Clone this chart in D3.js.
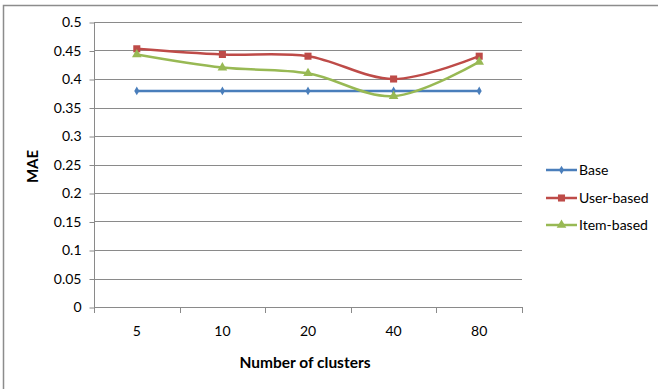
<!DOCTYPE html>
<html>
<head>
<meta charset="utf-8">
<script src="https://cdn.jsdelivr.net/npm/d3@7"></script>
<style>
  html, body { margin: 0; padding: 0; background: #fff; }
  svg { display: block; }
  text { font-family: Lato, "Open Sans", sans-serif; fill: #000; }
</style>
</head>
<body>
<svg id="chart" width="658" height="389"></svg>
<script>
// Cluster counts along the x axis
const categories = ["5", "10", "20", "40", "80"];
// MAE for each method
const baseValues = [0.379, 0.379, 0.379, 0.379, 0.379];
const userValues = [0.453, 0.443, 0.440, 0.400, 0.440];
const itemValues = [0.443, 0.420, 0.410, 0.370, 0.430];
const seriesNames = ["Base", "User-based", "Item-based"];
const yTicks = [0, 0.05, 0.1, 0.15, 0.2, 0.25, 0.3, 0.35, 0.4, 0.45, 0.5];

const series = [
  { name: seriesNames[0], values: baseValues, color: "#4A7EBB", marker: "diamond" },
  { name: seriesNames[1], values: userValues, color: "#BE4B48", marker: "square" },
  { name: seriesNames[2], values: itemValues, color: "#98B954", marker: "triangle" }
];

const svg = d3.select("#chart");

// outer frame
svg.append("rect")
  .attr("x", 3.5).attr("y", 5.5)
  .attr("width", 700).attr("height", 500)
  .attr("fill", "none").attr("stroke", "#8c8c8c").attr("stroke-width", 1.5);

const plot = { left: 94, right: 522, top: 22, bottom: 307 };

const x = d3.scaleBand().domain(categories).range([plot.left, plot.right]);
const y = d3.scaleLinear().domain([0, 0.5]).range([plot.bottom, plot.top]);

// horizontal gridlines
svg.append("g").selectAll("line").data(yTicks.filter(d => d > 0)).join("line")
  .attr("x1", plot.left).attr("x2", plot.right)
  .attr("y1", d => Math.round(y(d)) + 0.5).attr("y2", d => Math.round(y(d)) + 0.5)
  .attr("stroke", "#8a8a8a").attr("stroke-width", 1);

// y axis
const yAxis = d3.axisLeft(y).tickValues(yTicks).tickSize(5).tickPadding(8)
  .tickFormat(d => String(+d.toFixed(2)));
const gy = svg.append("g").attr("transform", `translate(${plot.left + 0.5},0.5)`).call(yAxis);
gy.select(".domain").attr("stroke", "#8a8a8a").attr("d", `M0,${plot.top}V${plot.bottom}`);
gy.selectAll(".tick line").attr("stroke", "#8a8a8a");
gy.selectAll(".tick text").style("font-size", "14px").style("fill", "#000")
  .style("font-family", "Lato, 'Open Sans', sans-serif");

// x axis: ticks at band boundaries, labels at band centres
const gx = svg.append("g");
gx.append("line")
  .attr("x1", plot.left).attr("x2", plot.right)
  .attr("y1", plot.bottom + 0.5).attr("y2", plot.bottom + 0.5)
  .attr("stroke", "#8a8a8a");
const bounds = categories.map(c => x(c)).concat([x(categories[categories.length - 1]) + x.bandwidth()]);
gx.selectAll("line.tk").data(bounds).join("line").attr("class", "tk")
  .attr("x1", d => Math.round(d) + 0.5).attr("x2", d => Math.round(d) + 0.5)
  .attr("y1", plot.bottom).attr("y2", plot.bottom + 6)
  .attr("stroke", "#8a8a8a");
gx.selectAll("text").data(categories).join("text")
  .attr("x", d => x(d) + x.bandwidth() / 2)
  .attr("y", plot.bottom + 29)
  .attr("text-anchor", "middle")
  .style("font-size", "14px")
  .text(d => d);

// axis titles
svg.append("text")
  .attr("transform", `translate(38,${(plot.top + plot.bottom) / 2 + 2}) rotate(-90)`)
  .attr("text-anchor", "middle")
  .style("font-size", "15px").style("font-weight", "bold")
  .text("MAE");
svg.append("text")
  .attr("x", (plot.left + plot.right) / 2 - 3).attr("y", 368)
  .attr("text-anchor", "middle")
  .style("font-size", "15.5px").style("font-weight", "bold")
  .text("Number of clusters");

const cx = c => x(c) + x.bandwidth() / 2;

function markerPath(type) {
  if (type === "diamond") return d3.symbol(d3.symbolDiamond, 22)();
  if (type === "square") return d3.symbol(d3.symbolSquare, 50)();
  return d3.symbol(d3.symbolTriangle, 40)();
}

const line = d3.line().curve(d3.curveCatmullRom.alpha(0))
  .x((d, i) => cx(categories[i])).y(d => y(d));

series.forEach(s => {
  svg.append("path").datum(s.values)
    .attr("d", line)
    .attr("fill", "none").attr("stroke", s.color).attr("stroke-width", 2.5);
  svg.append("g").selectAll("path").data(s.values).join("path")
    .attr("transform", (d, i) => `translate(${cx(categories[i])},${y(d)})`)
    .attr("d", markerPath(s.marker))
    .attr("fill", s.color);
});

// legend
const legendY = [170, 198, 225];
const lg = svg.append("g");
series.forEach((s, i) => {
  const g = lg.append("g").attr("transform", `translate(546,${legendY[i]})`);
  g.append("line").attr("x1", 0).attr("x2", 31).attr("y1", 0).attr("y2", 0)
    .attr("stroke", s.color).attr("stroke-width", 2.5);
  g.append("path").attr("transform", "translate(15.5,0)")
    .attr("d", markerPath(s.marker)).attr("fill", s.color);
  g.append("text").attr("x", 33).attr("y", 5)
    .style("font-size", "14px").text(s.name);
});
</script>
</body>
</html>
